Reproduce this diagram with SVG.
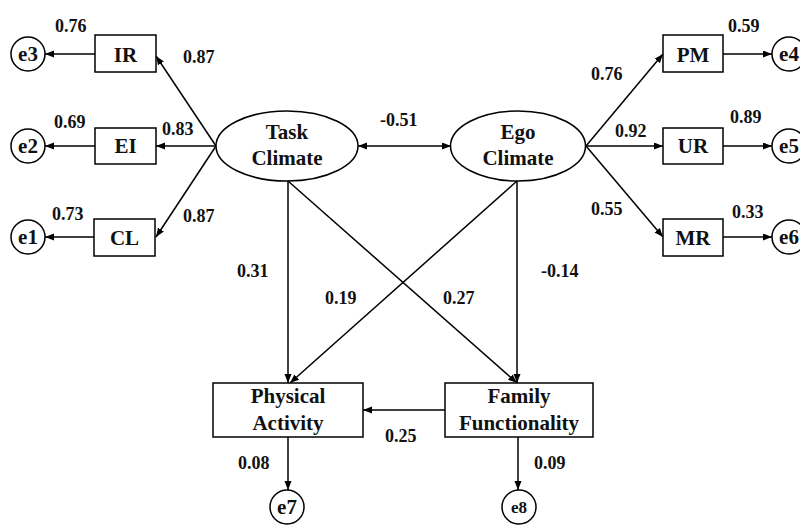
<svg xmlns="http://www.w3.org/2000/svg" width="800" height="525" viewBox="0 0 800 525">
<style>
.n{fill:#fff;stroke:#000;stroke-width:1.5}
.t{font-family:"Liberation Serif","Times New Roman",serif;font-weight:bold;font-size:21px;fill:#111;text-anchor:middle}
.l{font-family:"Liberation Serif","Times New Roman",serif;font-weight:bold;font-size:18px;fill:#111}
.c line{stroke:#000;stroke-width:1.5;marker-end:url(#ah)}
</style>
<defs>
<marker id="ah" markerUnits="userSpaceOnUse" markerWidth="10" markerHeight="8" refX="9" refY="3.5" orient="auto-start-reverse">
<path d="M0,0 L9,3.5 L0,7 z" fill="#000"/>
</marker>
</defs>
<rect width="800" height="525" fill="#fff"/>
<g class="c" id="connectors">
<line x1="216" y1="146" x2="156" y2="56"/>
<line x1="216" y1="146" x2="156" y2="146"/>
<line x1="216" y1="146" x2="156" y2="237"/>
<line x1="95" y1="54" x2="45" y2="54"/>
<line x1="95" y1="146" x2="45" y2="146"/>
<line x1="94" y1="237" x2="45" y2="237"/>
<line x1="358" y1="146" x2="451" y2="146" style="marker-start:url(#ah)"/>
<line x1="586" y1="146" x2="663" y2="54"/>
<line x1="586" y1="146" x2="663" y2="146"/>
<line x1="586" y1="146" x2="663" y2="237"/>
<line x1="723" y1="54" x2="772" y2="54"/>
<line x1="723" y1="146" x2="772" y2="146"/>
<line x1="723" y1="237" x2="772" y2="237"/>
<line x1="288" y1="181" x2="288" y2="383"/>
<line x1="288" y1="181" x2="517" y2="383"/>
<line x1="517" y1="181" x2="290" y2="383"/>
<line x1="517" y1="181" x2="517" y2="383"/>
<line x1="445" y1="410" x2="363" y2="410"/>
<line x1="288" y1="437" x2="288" y2="490"/>
<line x1="518" y1="437" x2="518" y2="490"/>
</g>
<g id="labels" class="l">
<text x="55" y="32">0.76</text>
<text x="183" y="63">0.87</text>
<text x="54" y="128">0.69</text>
<text x="162" y="135">0.83</text>
<text x="52" y="220">0.73</text>
<text x="183" y="222">0.87</text>
<text x="380" y="126">-0.51</text>
<text x="728" y="32">0.59</text>
<text x="591" y="80">0.76</text>
<text x="615" y="137">0.92</text>
<text x="730" y="123">0.89</text>
<text x="591" y="215">0.55</text>
<text x="732" y="218">0.33</text>
<text x="237" y="277">0.31</text>
<text x="325" y="304">0.19</text>
<text x="443" y="304">0.27</text>
<text x="541" y="277">-0.14</text>
<text x="385" y="442">0.25</text>
<text x="238" y="469">0.08</text>
<text x="534" y="469">0.09</text>
</g>
<g id="task"><ellipse class="n" cx="287" cy="146" rx="71" ry="35"/><text class="t" x="287" y="139">Task</text><text class="t" x="287" y="165">Climate</text></g>
<g id="ego"><ellipse class="n" cx="518" cy="146" rx="67.5" ry="35"/><text class="t" x="518" y="139">Ego</text><text class="t" x="518" y="165">Climate</text></g>
<g id="IR"><rect class="n" x="95" y="35" width="61" height="37"/><text class="t" x="125.5" y="62">IR</text></g>
<g id="EI"><rect class="n" x="95" y="128" width="61" height="36"/><text class="t" x="125.5" y="153">EI</text></g>
<g id="CL"><rect class="n" x="94" y="219" width="61" height="37"/><text class="t" x="124.5" y="245">CL</text></g>
<g id="PM"><rect class="n" x="663" y="35" width="60" height="37"/><text class="t" x="693" y="62">PM</text></g>
<g id="UR"><rect class="n" x="663" y="128" width="60" height="36"/><text class="t" x="693" y="153">UR</text></g>
<g id="MR"><rect class="n" x="663" y="219" width="60" height="37"/><text class="t" x="693" y="245">MR</text></g>
<g id="PA"><rect class="n" x="213" y="383" width="150" height="54"/><text class="t" x="288" y="403">Physical</text><text class="t" x="288" y="430">Activity</text></g>
<g id="FF"><rect class="n" x="445" y="383" width="148" height="54"/><text class="t" x="519" y="403">Family</text><text class="t" x="519" y="430">Functionality</text></g>
<g id="e3"><circle class="n" cx="28" cy="54" r="17"/><text class="t" x="28" y="61">e3</text></g>
<g id="e2"><circle class="n" cx="28" cy="146" r="17"/><text class="t" x="28" y="153">e2</text></g>
<g id="e1"><circle class="n" cx="28" cy="237" r="17"/><text class="t" x="28" y="244">e1</text></g>
<g id="e4"><circle class="n" cx="789" cy="54" r="17"/><text class="t" x="789" y="61">e4</text></g>
<g id="e5"><circle class="n" cx="789" cy="146" r="17"/><text class="t" x="789" y="153">e5</text></g>
<g id="e6"><circle class="n" cx="789" cy="237" r="17"/><text class="t" x="789" y="244">e6</text></g>
<g id="e7"><circle class="n" cx="287" cy="507" r="17"/><text class="t" x="287" y="514">e7</text></g>
<g id="e8"><circle class="n" cx="519" cy="507" r="17"/><text class="t" x="519" y="513" style="font-size:17px">e8</text></g>
</svg>
